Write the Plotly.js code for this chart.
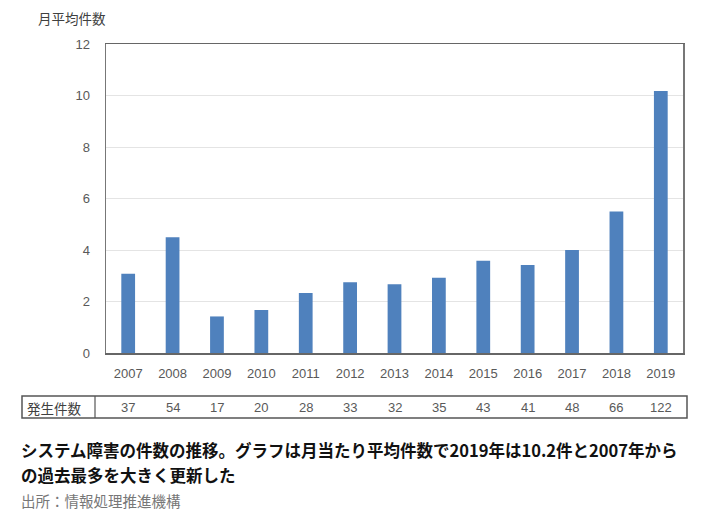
<!DOCTYPE html>
<html>
<head>
<meta charset="utf-8">
<script src="https://cdn.plot.ly/plotly-3.0.1.min.js"></script>
<style>html,body{margin:0;padding:0;background:#fff;}#chart{width:719px;height:511px;}</style>
</head>
<body>
<div id="chart"></div>
<script>
const years = ["2007","2008","2009","2010","2011","2012","2013","2014","2015","2016","2017","2018","2019"];
const monthlyAvg = [3.08, 4.5, 1.42, 1.67, 2.33, 2.75, 2.67, 2.92, 3.58, 3.42, 4.0, 5.5, 10.17];
const counts = [37, 54, 17, 20, 28, 33, 32, 35, 43, 41, 48, 66, 122];
const yTicks = [0, 2, 4, 6, 8, 10, 12];
const yAxisTitle = "月平均件数";
const tableLabel = "発生件数";
const captionLine1 = "システム障害の件数の推移。グラフは月当たり平均件数で2019年は10.2件と2007年から";
const captionLine2 = "の過去最多を大きく更新した";
const sourceText = "出所：情報処理推進機構";

const L = 106, R = 36, T = 44, B = 158;
const W = 719, H = 511;
const pw = W - L - R, ph = H - T - B;
const px = X => (X - L) / pw;
const py = Y => (H - B - Y) / ph;

const tickFont = {family: "Liberation Sans, Arial, sans-serif", size: 13, color: "#595959"};
const cjk = "Noto Sans CJK JP, sans-serif";

const annotations = [];
counts.forEach((c, i) => {
  annotations.push({
    xref: "x", yref: "paper", x: i, y: py(407.5),
    text: String(c), showarrow: false, xanchor: "center", yanchor: "middle",
    font: tickFont
  });
});
annotations.push({
  xref: "paper", yref: "paper", x: px(25), y: py(407.5), text: tableLabel,
  showarrow: false, xanchor: "left", yanchor: "middle",
  font: {family: cjk, size: 13.5, color: "#404040"}
});
annotations.push({
  xref: "paper", yref: "paper", x: px(36), y: py(18), text: yAxisTitle,
  showarrow: false, xanchor: "left", yanchor: "middle",
  font: {family: cjk, size: 13.5, color: "#404040"}
});
annotations.push({
  xref: "paper", yref: "paper", x: px(19), y: py(450), text: "<b>" + captionLine1 + "</b>",
  showarrow: false, xanchor: "left", yanchor: "middle",
  font: {family: cjk, size: 16.5, color: "#111"}
});
annotations.push({
  xref: "paper", yref: "paper", x: px(19), y: py(475), text: "<b>" + captionLine2 + "</b>",
  showarrow: false, xanchor: "left", yanchor: "middle",
  font: {family: cjk, size: 16.5, color: "#111"}
});
annotations.push({
  xref: "paper", yref: "paper", x: px(19), y: py(500), text: sourceText,
  showarrow: false, xanchor: "left", yanchor: "middle",
  font: {family: cjk, size: 14.5, color: "#777"}
});

const shapes = [
  {type: "rect", xref: "paper", yref: "paper", x0: px(22), x1: px(687), y0: py(418), y1: py(396),
   line: {color: "#555", width: 1.5}},
  {type: "line", xref: "paper", yref: "paper", x0: px(95), x1: px(95), y0: py(418), y1: py(396),
   line: {color: "#555", width: 1.2}}
];

const trace = {
  type: "bar", x: years, y: monthlyAvg,
  marker: {color: "#4f81bd", line: {width: 0}},
  hoverinfo: "x+y"
};

const layout = {
  width: W, height: H,
  margin: {l: L, r: R, t: T, b: B, pad: 0},
  paper_bgcolor: "#fff", plot_bgcolor: "#fff",
  bargap: 0.69,
  showlegend: false,
  xaxis: {
    type: "category", range: [-0.5, years.length - 0.5],
    tickfont: tickFont, ticks: "", ticklabelstandoff: 8,
    showline: true, linecolor: "#666", linewidth: 1.5, mirror: true,
    showgrid: false, zeroline: false, fixedrange: true
  },
  yaxis: {
    range: [0, 12], tickvals: yTicks, ticktext: yTicks.map(String),
    tickfont: tickFont, ticks: "", ticklabelstandoff: 12,
    showline: true, linecolor: "#777", linewidth: 1.5, mirror: true,
    showgrid: true, gridcolor: "#e4e4e4", gridwidth: 1, zeroline: false, fixedrange: true
  },
  annotations: annotations,
  shapes: shapes
};

Plotly.newPlot("chart", [trace], layout, {displayModeBar: false, staticPlot: true});
</script>
</body>
</html>
